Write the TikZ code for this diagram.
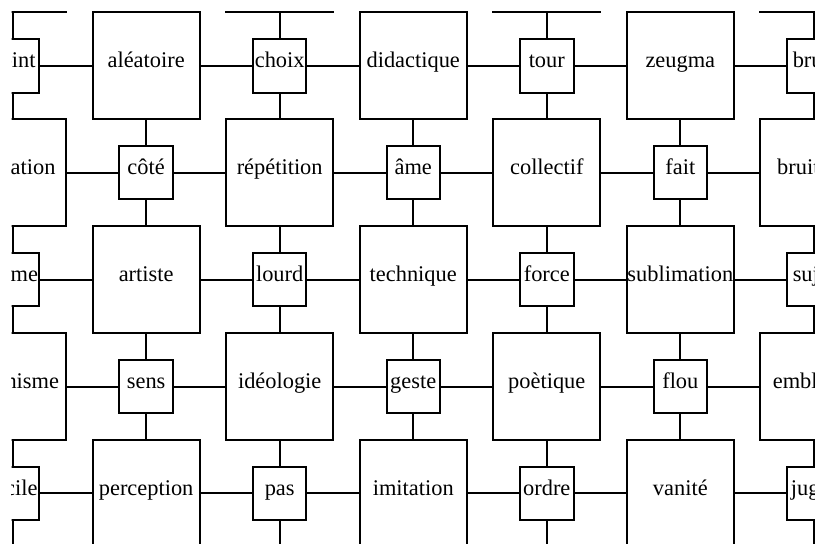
\documentclass[tikz,border=0pt]{standalone}
\usepackage{fontspec}
\setmainfont{Liberation Serif}
\newcommand\defword[3]{\expandafter\def\csname gw#1:#2\endcsname{#3}}
\defword{0}{0}{point}\defword{1}{0}{aléatoire}\defword{2}{0}{choix}\defword{3}{0}{didactique}\defword{4}{0}{tour}\defword{5}{0}{zeugma}\defword{6}{0}{bruit}
\defword{0}{1}{libération}\defword{1}{1}{côté}\defword{2}{1}{répétition}\defword{3}{1}{âme}\defword{4}{1}{collectif}\defword{5}{1}{fait}\defword{6}{1}{bruitage}
\defword{0}{2}{trame}\defword{1}{2}{artiste}\defword{2}{2}{lourd}\defword{3}{2}{technique}\defword{4}{2}{force}\defword{5}{2}{sublimation}\defword{6}{2}{sujet}
\defword{0}{3}{organisme}\defword{1}{3}{sens}\defword{2}{3}{idéologie}\defword{3}{3}{geste}\defword{4}{3}{poètique}\defword{5}{3}{flou}\defword{6}{3}{emblème}
\defword{0}{4}{facile}\defword{1}{4}{perception}\defword{2}{4}{pas}\defword{3}{4}{imitation}\defword{4}{4}{ordre}\defword{5}{4}{vanité}\defword{6}{4}{juger}
\begin{document}
\begin{tikzpicture}[x=1pt,y=-1pt,
  box/.style={draw=black, line width=2pt, inner sep=0pt, text height=6pt, text depth=2pt, font=\fontsize{22.4}{25}\selectfont},
  bigbox/.style={box, minimum width=106.9pt, minimum height=106.9pt},
  smallbox/.style={box, minimum width=53.4pt, minimum height=53.4pt},
  link/.style={draw=black, line width=2pt}]
\useasboundingbox (0,0) rectangle (815,544);
\fill[white] (0,0) rectangle (815,544);
\clip (11.5,11.5) rectangle (815,544);
\foreach \c in {0,...,6}{
  \foreach \r in {-1,...,5}{
    \pgfmathtruncatemacro{\pty}{mod(\c+\r+10,2)}
    \ifnum\pty=1
      \node[bigbox] (n-\c-\r) at ({12.6+133.55*\c},{65.8+106.9*\r}) {\csname gw\c:\r\endcsname};
    \else
      \node[smallbox] (n-\c-\r) at ({12.6+133.55*\c},{65.8+106.9*\r}) {\csname gw\c:\r\endcsname};
    \fi
  }
}
\foreach \c in {0,...,5}{
  \foreach \r in {-1,...,5}{
    \pgfmathtruncatemacro{\cn}{\c+1}
    \draw[link] (n-\c-\r.east) -- (n-\cn-\r.west);
  }
}
\foreach \c in {0,...,6}{
  \foreach \r in {-1,...,4}{
    \pgfmathtruncatemacro{\rn}{\r+1}
    \draw[link] (n-\c-\r.south) -- (n-\c-\rn.north);
  }
}
\end{tikzpicture}
\end{document}
